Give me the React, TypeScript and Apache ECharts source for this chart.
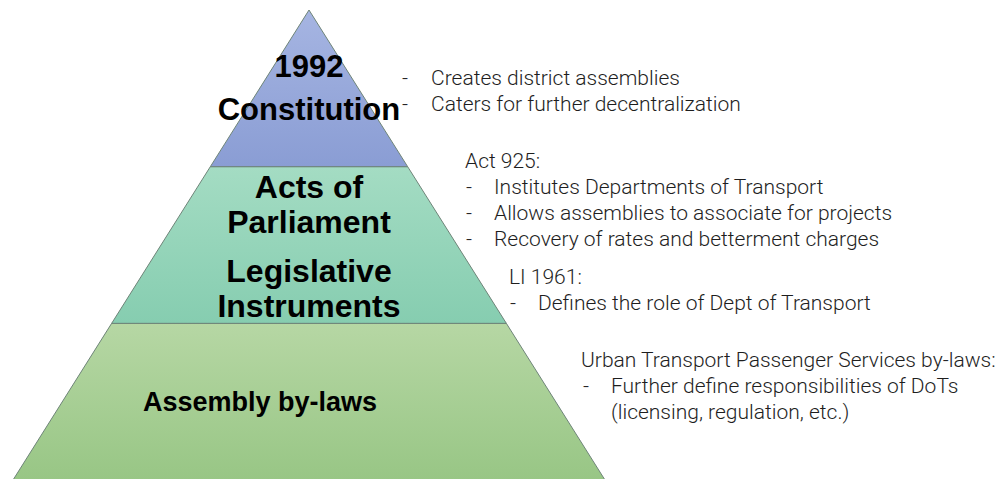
import React, { useEffect, useRef } from "react";
import * as echarts from "echarts";

// Pyramid layers, bottom to top (value = relative width of each layer's lower edge)
const layerNames = ["Assembly by-laws", "Acts of Parliament / Legislative Instruments", "1992 Constitution"];
const layerValues = [3, 2, 1];
const layerTopColors = ["#b6d7a4", "#a4dcc3", "#a6b5e2"];
const layerBottomColors = ["#98c685", "#86cdb0", "#8a9dd4"];

// Annotation texts
const constitutionNotes = ["Creates district assemblies", "Caters for further decentralization"];
const actHeading = "Act 925:";
const actNotes = [
  "Institutes Departments of Transport",
  "Allows assemblies to associate for projects",
  "Recovery of rates and betterment charges",
];
const liHeading = "LI 1961:";
const liNotes = ["Defines the role of Dept of Transport"];
const byLawHeading = "Urban Transport Passenger Services by-laws:";
const byLawNotes = ["Further define responsibilities of DoTs", "(licensing, regulation, etc.)"];
const byLawBullets = [true, false];

const BOLD_FONT = '"Liberation Sans", Arial, sans-serif';
const LIGHT_FONT = 'Roboto, "Liberation Sans", sans-serif';
const NOTE_COLOR = "#1e1e1e";
const NOTE_SIZE = 21;
const LINE = 26;

function noteText(text: string, x: number, y: number) {
  return {
    type: "text",
    x,
    y,
    silent: true,
    style: {
      text,
      fill: NOTE_COLOR,
      font: `300 ${NOTE_SIZE}px ${LIGHT_FONT}`,
      textAlign: "left",
      textVerticalAlign: "middle",
    },
  };
}

function buildGraphics() {
  const g: any[] = [];
  // Constitution block
  constitutionNotes.forEach((t, i) => {
    g.push(noteText("-", 402, 78 + i * LINE));
    g.push(noteText(t, 431, 78 + i * LINE));
  });
  // Act 925 block
  g.push(noteText(actHeading, 465, 161));
  actNotes.forEach((t, i) => {
    g.push(noteText("-", 466, 187 + i * LINE));
    g.push(noteText(t, 494, 187 + i * LINE));
  });
  // LI 1961 block
  g.push(noteText(liHeading, 509, 277));
  liNotes.forEach((t, i) => {
    g.push(noteText("-", 510, 303 + i * LINE));
    g.push(noteText(t, 538, 303 + i * LINE));
  });
  // By-laws block
  g.push(noteText(byLawHeading, 581, 360));
  byLawNotes.forEach((t, i) => {
    if (byLawBullets[i]) g.push(noteText("-", 583, 386 + i * LINE));
    g.push(noteText(t, 611, 386 + i * LINE));
  });
  return g;
}

const layerLabels: any[] = [
  {
    formatter: "Assembly by-laws",
    fontSize: 27,
    padding: [18, 98, 0, 0],
  },
  {
    formatter: "{a|Acts of}\n{a|Parliament}\n{g| }\n{a|Legislative}\n{a|Instruments}",
    padding: [2, 0, 0, 0],
    rich: {
      a: { fontSize: 32, lineHeight: 35, fontWeight: "bold", color: "#000", fontFamily: BOLD_FONT },
      g: { fontSize: 1, lineHeight: 14 },
    },
  },
  {
    formatter: "1992\nConstitution",
    fontSize: 31,
    lineHeight: 43,
    padding: [0, 0, 4, 0],
  },
];

export default function App() {
  const ref = useRef<HTMLDivElement>(null);
  useEffect(() => {
    if (!ref.current) return;
    const chart = echarts.init(ref.current, undefined, { renderer: "svg" });
    chart.setOption({
      animation: false,
      backgroundColor: "#ffffff",
      series: [
        {
          type: "funnel",
          sort: "ascending",
          left: 13,
          top: 10,
          width: 592,
          height: 470,
          min: 0,
          max: 3,
          minSize: "0%",
          maxSize: "100%",
          gap: 0,
          silent: true,
          labelLine: { show: false },
          label: {
            show: true,
            position: "inside",
            color: "#000",
            fontWeight: "bold",
            fontFamily: BOLD_FONT,
          },
          itemStyle: { borderColor: "#6e8478", borderWidth: 1 },
          data: layerNames.map((name, i) => ({
            name,
            value: layerValues[i],
            itemStyle: {
              color: {
                type: "linear",
                x: 0,
                y: 0,
                x2: 0,
                y2: 1,
                colorStops: [
                  { offset: 0, color: layerTopColors[i] },
                  { offset: 1, color: layerBottomColors[i] },
                ],
              },
            },
            label: layerLabels[i],
          })),
        },
      ],
      graphic: buildGraphics(),
    });
    return () => chart.dispose();
  }, []);
  return (
    <div
      ref={ref}
      style={{ position: "fixed", left: 0, top: 0, width: 1007, height: 479 }}
    />
  );
}
